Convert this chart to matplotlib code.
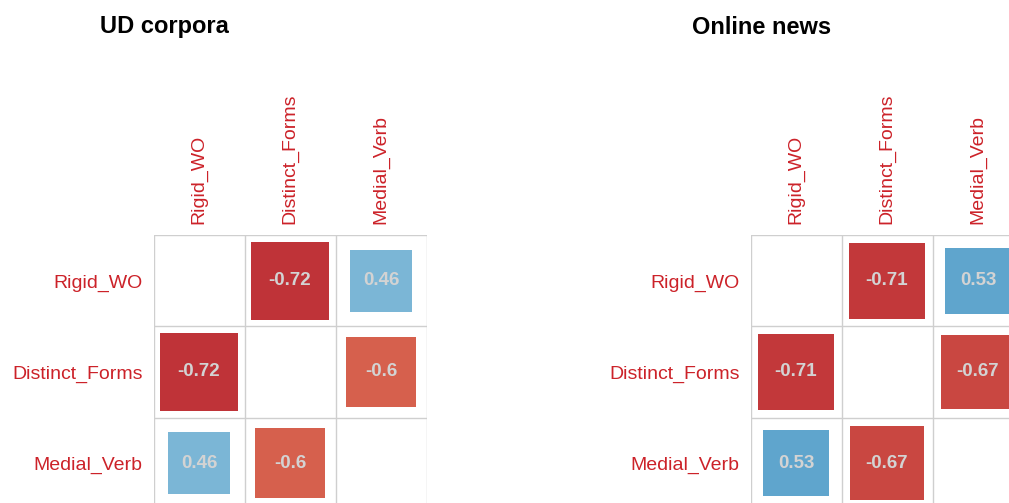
import numpy as np
import matplotlib
matplotlib.use("Agg")
import matplotlib.pyplot as plt
from matplotlib.colors import LinearSegmentedColormap
from matplotlib.patches import Rectangle

plt.rcParams['font.family'] = ['Liberation Sans', 'DejaVu Sans']

# data
variables = ["Rigid_WO", "Distinct_Forms", "Medial_Verb"]
titles = ["UD corpora", "Online news"]
ud_corr = [[1.00, -0.72, 0.46],
           [-0.72, 1.00, -0.60],
           [0.46, -0.60, 1.00]]
news_corr = [[1.00, -0.71, 0.53],
             [-0.71, 1.00, -0.67],
             [0.53, -0.67, 1.00]]

# corrplot style RdBu palette
col2 = ["#67001F", "#B2182B", "#D6604D", "#F4A582", "#FDDBC7", "#FFFFFF",
        "#D1E5F0", "#92C5DE", "#4393C3", "#2166AC", "#053061"]
cmap = LinearSegmentedColormap.from_list("col2", col2)
label_col = "#cc2229"
W, H = 1009, 503

fig = plt.figure(figsize=(W / 100, H / 100), dpi=100)

def draw_panel(x0, corr, title, title_x):
    cell = 91
    top = 235.5
    ax = fig.add_axes([x0 / W, (H - top - 3 * cell) / H, 3 * cell / W, 3 * cell / H])
    ax.set_xlim(0, 3)
    ax.set_ylim(3, 0)
    n = len(variables)
    for i in range(n):
        for j in range(n):
            if i == j:
                continue
            r = corr[i][j]
            s = np.sqrt(abs(r))
            ax.add_patch(Rectangle((j + 0.5 - s / 2, i + 0.5 - s / 2), s, s,
                                   facecolor=cmap((r + 1) / 2), edgecolor="none"))
            ax.text(j + 0.5, i + 0.5, f"{r:g}", ha="center", va="center",
                    fontsize=13.5, fontweight="bold", color="#d3d3d3")
    for k in range(n + 1):
        ax.axhline(k, color="#cfcfcf", lw=1.0)
        ax.axvline(k, color="#cfcfcf", lw=1.0)
    ax.set_xticks(np.arange(n) + 0.5)
    ax.set_yticks(np.arange(n) + 0.5)
    ax.xaxis.tick_top()
    ax.set_xticklabels(variables, rotation=90, color=label_col, fontsize=14)
    ax.set_yticklabels(variables, color=label_col, fontsize=14)
    ax.tick_params(length=0, pad=8)
    for sp in ax.spines.values():
        sp.set_visible(False)
    fig.text(title_x / W, 1 - 27 / H, title, ha="center", va="center",
             fontsize=17, fontweight="bold", color="black")

draw_panel(153.5, ud_corr, titles[0], 164)
draw_panel(750.5, news_corr, titles[1], 762)

fig.savefig("out.png", dpi=100)
